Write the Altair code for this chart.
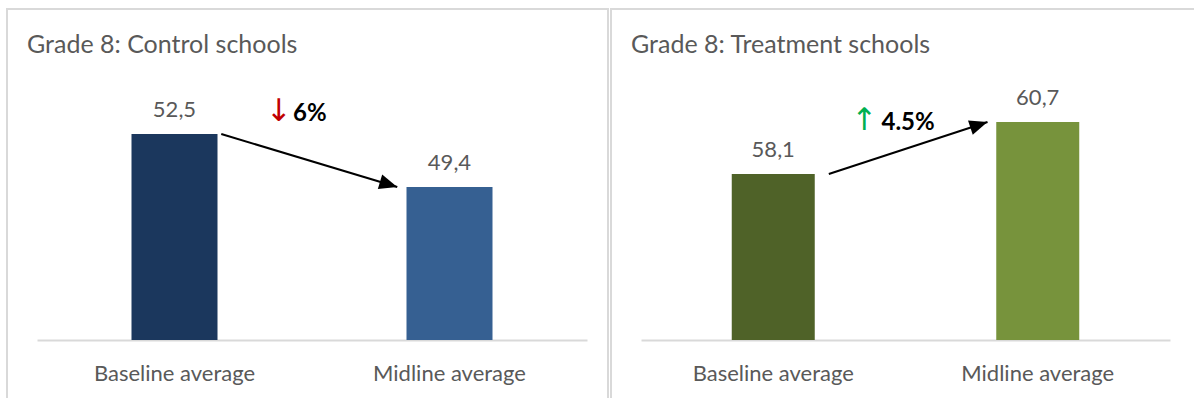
import math

import altair as alt
import pandas as pd

# Category labels shared by both panels
categories = ["Baseline average", "Midline average"]

# Panel titles
panel_titles = ["Grade 8: Control schools", "Grade 8: Treatment schools"]

# Average scores
control_values = [52.5, 49.4]
treatment_values = [58.1, 60.7]

# Change between baseline and midline
control_change = "6%"
treatment_change = "4.5%"

# Bar colours
control_colors = ["#1b375d", "#366092"]
treatment_colors = ["#4f6228", "#77933c"]

FONT = "Lato"
GREY = "#595959"
FRAME = "#d9d9d9"
VIEW_H = 390
Y_RANGE = [332, 32]
HEAD_PATH = "M0,0L-1,-0.42L-1,0.42Z"
HEAD_LEN = 18


def panel(title, values, colors, change, glyph, glyph_color, width, x_range,
          y_domain, bar_size, start_pos, end_pos, note_y, note_dx, glyph_dx,
          frame_x2):
    df = pd.DataFrame({
        "cat": categories,
        "value": values,
        "label": [f"{v:.1f}".replace(".", ",") for v in values],
        "color": colors,
    })
    xscale = alt.Scale(domain=categories, range=x_range, paddingInner=0,
                       paddingOuter=0)
    yscale = alt.Scale(domain=y_domain, range=Y_RANGE, zero=False, nice=False)
    xaxis = alt.Axis(title=None, offset=-(VIEW_H - Y_RANGE[0]), domainColor=FRAME,
                     domainWidth=2, ticks=False, labelFont=FONT, labelFontSize=22,
                     labelColor=GREY, labelPadding=40, labelBaseline="alphabetic",
                     labelAngle=0)

    def xenc(field, **kw):
        return alt.X(f"{field}:N", scale=xscale, axis=xaxis, **kw)

    frame = alt.Chart(pd.DataFrame({"k": [0]})).mark_rect(
        fill="white", fillOpacity=0, stroke=FRAME, strokeWidth=2, clip=True
    ).encode(x=alt.value(1), x2=alt.value(frame_x2), y=alt.value(1),
             y2=alt.value(VIEW_H + 20))

    heading = alt.Chart(pd.DataFrame({"t": [title]})).mark_text(
        align="left", baseline="alphabetic", font=FONT, fontSize=25, color=GREY
    ).encode(x=alt.value(21), y=alt.value(45), text="t:N")

    base = alt.Chart(df)
    bars = base.mark_bar(size=bar_size).encode(
        x=xenc("cat"),
        y=alt.Y("value:Q", scale=yscale, axis=None),
        y2=alt.datum(y_domain[0]),
        color=alt.Color("color:N", scale=None),
    )
    labels = base.mark_text(
        dy=-17, baseline="alphabetic", font=FONT, fontSize=22, color=GREY
    ).encode(x=xenc("cat"), y=alt.Y("value:Q", scale=yscale, axis=None),
             text="label:N")

    arrow_df = pd.DataFrame({"start": [categories[0]], "end": [categories[1]],
                             "from": [values[0]], "to": [values[1]]})

    # Direction of the connector in pixels, for rotating its head
    bw = (x_range[1] - x_range[0]) / 2
    def ypix(v):
        return Y_RANGE[0] - (v - y_domain[0]) / (y_domain[1] - y_domain[0]) * (Y_RANGE[0] - Y_RANGE[1])
    dx = (1 + end_pos) * bw - start_pos * bw
    dy = ypix(values[1]) - ypix(values[0])
    angle = math.degrees(math.atan2(dy, dx)) % 360

    line = alt.Chart(arrow_df).mark_rule(color="black", strokeWidth=2).encode(
        x=xenc("start", bandPosition=start_pos),
        x2=alt.X2("end", bandPosition=end_pos),
        y=alt.Y("from:Q", scale=yscale, axis=None),
        y2="to:Q",
    )
    head = alt.Chart(arrow_df).mark_point(
        shape=HEAD_PATH, filled=True, size=(2 * HEAD_LEN) ** 2, angle=angle,
        color="black", opacity=1, strokeWidth=0
    ).encode(x=xenc("end", bandPosition=end_pos),
             y=alt.Y("to:Q", scale=yscale, axis=None))

    note_df = pd.DataFrame({"pos": [categories[0]], "change": [change],
                            "glyph": [glyph]})
    arrow_txt = alt.Chart(note_df).mark_text(
        align="right", baseline="alphabetic", dx=glyph_dx, font="DejaVu Sans",
        fontSize=31, color=glyph_color
    ).encode(x=xenc("pos", bandPosition=1), y=alt.value(note_y), text="glyph:N")
    pct_txt = alt.Chart(note_df).mark_text(
        align="left", baseline="alphabetic", dx=note_dx, font=FONT, fontSize=24,
        fontWeight="bold", color="black"
    ).encode(x=xenc("pos", bandPosition=1), y=alt.value(note_y), text="change:N")

    return alt.layer(frame, heading, bars, labels, line, head, arrow_txt,
                     pct_txt).properties(width=width, height=VIEW_H)


left = panel(panel_titles[0], control_values, control_colors, control_change,
             "↓", "#c00000", 603, [31, 581], [40.45, 58.0], 86, 0.67, 0.31,
             113, -19, -20, 602)
right = panel(panel_titles[1], treatment_values, treatment_colors,
              treatment_change, "↑", "#00b050", 584, [31, 560], [49.8, 64.8],
              83, 0.71, 0.31, 122, -24, -28, 600)

chart = alt.hconcat(left, right, spacing=1).resolve_scale(
    x="independent", y="independent"
).configure(
    padding={"left": 6, "top": 8, "right": 0, "bottom": 0},
    background="white",
).configure_view(stroke=None)

chart.save("out.html", embed_options={"renderer": "svg", "actions": False})
